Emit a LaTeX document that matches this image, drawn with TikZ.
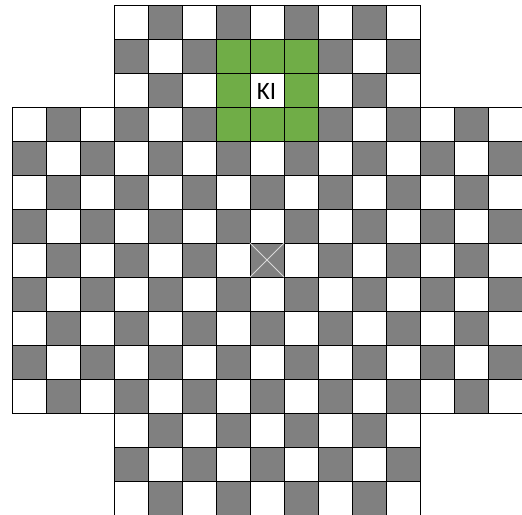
\documentclass[tikz,border=0pt]{standalone}
\usepackage{fontspec}
\newfontfamily\kifont{Carlito}
\definecolor{boardgray}{HTML}{808080}
\definecolor{boardgreen}{HTML}{70AD47}
\definecolor{xline}{HTML}{D9D9D9}
\begin{document}
\begin{tikzpicture}[x=1pt,y=1pt,
  cell/.style={draw=black,line width=0.7pt},
  crossline/.style={draw=xline,line width=0.8pt}]
\useasboundingbox (0,0) rectangle (522,514);
\fill[white] (0,0) rectangle (522,514);
\foreach \r in {0,...,14}{
  \foreach \c in {0,...,14}{
    \pgfmathtruncatemacro\ins{or(and(\r>2,\r<12),and(\c>2,\c<12))}
    \ifnum\ins=1
      \pgfmathtruncatemacro\grn{and(and(\r>0,\r<4),and(\c>5,\c<9))}
      \pgfmathtruncatemacro\kic{and(\r==2,\c==7)}
      \pgfmathtruncatemacro\parity{mod(\r+\c,2)}
      \ifnum\parity=0 \def\fillc{boardgray}\else \def\fillc{white}\fi
      \ifnum\grn=1 \def\fillc{boardgreen}\fi
      \ifnum\kic=1 \def\fillc{white}\fi
      \pgfmathsetmacro\xa{12+34*\c}
      \pgfmathsetmacro\yb{475-34*\r}
      \path[cell,fill=\fillc] (\xa,\yb) rectangle ++(34,34);
    \fi
  }
}
\coordinate (xa) at (250,237);
\coordinate (xb) at (284,271);
\coordinate (xc) at (250,271);
\coordinate (xd) at (284,237);
\draw[crossline] (xa) -- (xb);
\draw[crossline] (xc) -- (xd);
\node[font=\kifont\fontsize{25}{27}\selectfont,inner sep=0pt] (ki) at (266.5,423) {KI};
\end{tikzpicture}
\end{document}
